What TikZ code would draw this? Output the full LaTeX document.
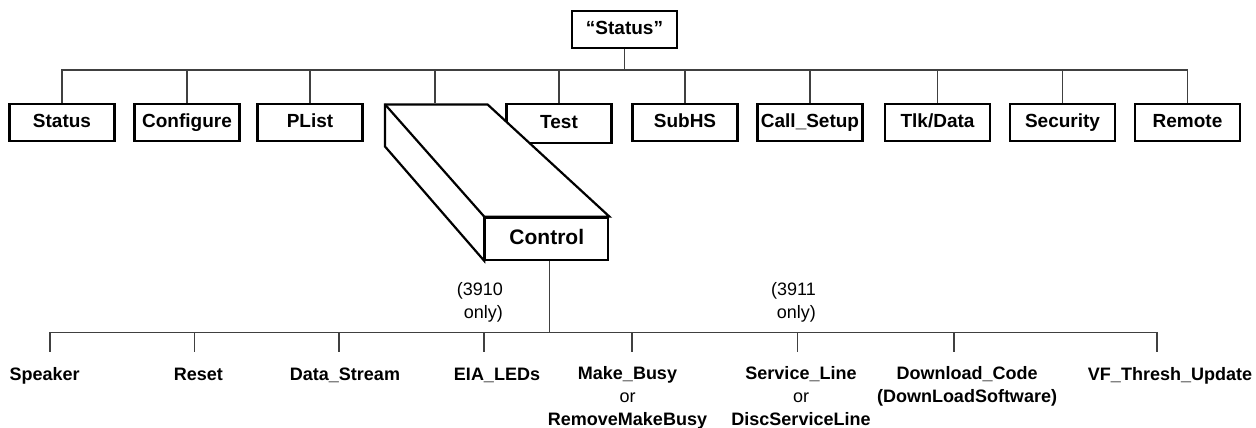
\documentclass[tikz,border=0pt]{standalone}
\usepackage{fontspec}
\setmainfont{Liberation Sans}
\tikzstyle{box} = [
    rectangle,
    draw=black,
    line width=2.2pt,
    fill=white,
    minimum width=105pt,
    minimum height=36.5pt,
    inner sep=0pt,
    text height=14pt,
    text depth=3.7pt,
    font=\fontsize{19}{22}\selectfont\bfseries
]
\tikzstyle{slab} = [
    draw=black,
    line width=2.2pt,
    fill=white
]
\tikzstyle{link} = [
    line width=1.2pt,
    black!75
]
\tikzstyle{leaf} = [
    anchor=north,
    align=center,
    inner sep=0pt,
    execute at begin node=\rule{0pt}{14pt},
    font=\fontsize{18}{23}\selectfont\bfseries
]
\tikzstyle{note} = [
    anchor=north east,
    align=right,
    inner sep=0pt,
    execute at begin node=\rule{0pt}{14pt},
    font=\fontsize{18}{23}\selectfont
]

\begin{document}
\begin{tikzpicture}[x=1pt, y=-1pt]
    \useasboundingbox (0,0) rectangle (1256,428);

    % Root
    \node (top) [box] at (624.5,29.5) {“Status”};
    \coordinate (bus) at (624,70);

    % First level
    \foreach \n/\x/\t in {st/62/Status, cf/187/Configure, pl/310/PList,
        sh/685/SubHS, cs/810/Call\_Setup, td/937.5/{Tlk/Data},
        sc/1062.5/Security, rm/1187.5/Remote}
        \node (\n) [box] at (\x,122.5) {\t};
    \node (ts) [box, minimum height=39pt] at (559,123.8) {Test};

    % Control slab
    \node (control) [box, minimum width=123pt, minimum height=42pt,
        text height=15.5pt, text depth=4.5pt,
        font=\fontsize{21}{25}\selectfont\bfseries] at (546.8,238.7) {Control};
    \coordinate (bk1) at (385,104.4);
    \coordinate (bk2) at (487.5,104.4);
    \coordinate (bk3) at (385,146.5);
    \coordinate (ctltop) at (435,103.3);
    \filldraw [slab] (bk1) -- (bk2) -- (control.north east) -- (control.north west)
        -- (control.south west) -- (bk3) -- cycle;
    \draw [slab] (bk1) -- (control.north west);

    % Edges to first level
    \foreach \n in {st,cf,pl,ts,sh,cs,td,sc,rm}
        \draw [link] (top.south) -- (top.south |- bus) -| (\n.north);
    \draw [link] (top.south) -- (top.south |- bus) -| (ctltop);

    % Second level
    \coordinate (lowbus) at (550,332.5);
    \foreach \n/\x/\t in {spk/44.6/Speaker, rst/198.3/Reset, dst/345/Data\_Stream,
        eia/497/EIA\_LEDs, mkb/627.5/{Make\_Busy\\{\mdseries or}\\RemoveMakeBusy},
        svl/801/{Service\_Line\\{\mdseries or}\\DiscServiceLine},
        dlc/967/{Download\_Code\\(DownLoadSoftware)}, vft/1170/VF\_Thresh\_Update}
        \node (\n) [leaf] at (\x,366) {\t};

    \node (n3910) [note] at (503,282.5) {(3910\\only)};
    \node (n3911) [note] at (816,282.5) {(3911\\only)};

    % Edges to second level
    \foreach \n/\d in {spk/5.4, rst/-4, dst/-6, eia/-13, mkb/4.5, svl/-3.5,
        dlc/-13, vft/-13}
        \draw [link, shorten >=13.7pt] ([xshift=3pt]control.south)
            -- ([xshift=3pt]control.south |- lowbus) -| ([xshift=\d pt]\n.north);

\end{tikzpicture}
\end{document}
